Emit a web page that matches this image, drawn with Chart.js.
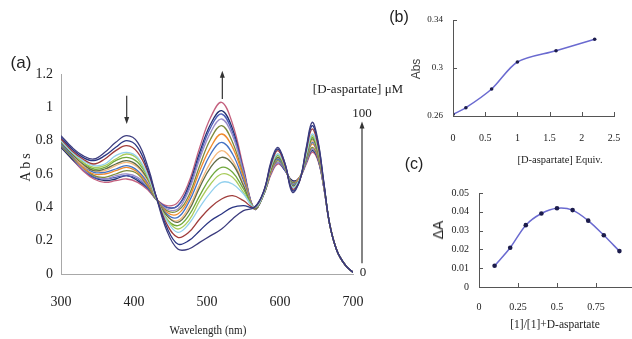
<!DOCTYPE html>
<html>
<head>
<meta charset="utf-8">
<script src="https://cdn.jsdelivr.net/npm/chart.js@4.4.0/dist/chart.umd.min.js"></script>
<style>
  html, body { margin: 0; padding: 0; background: #fff; }
  body { width: 632px; height: 339px; overflow: hidden; position: relative; }
  canvas { position: absolute; }
  .lbl { position: absolute; transform: translate(-50%, -50%); white-space: nowrap; color: #222; line-height: 1; }
  .serif { font-family: 'Liberation Serif', 'Times New Roman', serif; }
  .sans { font-family: 'Liberation Sans', Arial, sans-serif; }
  .rot { transform: translate(-50%, -50%) rotate(-90deg); }
</style>
</head>
<body>
<canvas id="specChart" width="380" height="339" style="left:0;top:0"></canvas>
<canvas id="titrChart" width="252" height="180" style="left:380px;top:0"></canvas>
<canvas id="jobChart" width="260" height="169" style="left:380px;top:170px"></canvas>

<div class="lbl sans" style="left:21px;top:62px;font-size:17px">(a)</div>
<div class="lbl serif rot" style="left:26px;top:166px;font-size:14px;letter-spacing:3px">Abs</div>
<div class="lbl serif" style="left:208px;top:329px;font-size:13px;transform:translate(-50%,-50%) scaleX(0.85)">Wavelength (nm)</div>
<div class="lbl serif" style="left:358px;top:88px;font-size:13px">[D-aspartate] μM</div>
<div class="lbl serif" style="left:362px;top:112px;font-size:13px">100</div>
<div class="lbl serif" style="left:363px;top:271px;font-size:13px">0</div>

<div class="lbl sans" style="left:399px;top:17px;font-size:16px">(b)</div>
<div class="lbl sans rot" style="left:416px;top:69px;font-size:12px;color:#444">Abs</div>
<div class="lbl serif" style="left:560px;top:160px;font-size:10.5px">[D-aspartate] Equiv.</div>

<div class="lbl sans" style="left:414px;top:164px;font-size:16px">(c)</div>
<div class="lbl sans rot" style="left:438px;top:230px;font-size:14px">ΔA</div>
<div class="lbl serif" style="left:555px;top:325px;font-size:11.5px">[1]/[1]+D-aspartate</div>

<script>
// (a) UV-vis spectra, 0 -> 100 uM D-aspartate
const wavelengths = [300, 315, 330, 345, 360, 375, 390, 405, 420, 430, 445, 460, 475, 490, 505, 520, 535, 550, 565, 578, 588, 597, 607, 617, 627, 636, 644, 652, 660, 668, 678, 690, 700];
const spec00 = [.83,.76,.71,.69,.73,.79,.83,.79,.63,.47, .26,.15,.15,.19,.23,.27,.33,.38,.40,.50, .68,.76,.66,.49,.56,.76,.91,.80,.55,.30, .14,.05,.01];
const spec01 = [.82,.75,.70,.68,.71,.76,.80,.76,.61,.47, .28,.18,.20,.26,.32,.36,.40,.41,.40,.50, .67,.75,.66,.50,.56,.75,.89,.79,.55,.30, .14,.05,.01];
const spec02 = [.81,.74,.69,.66,.69,.74,.77,.73,.60,.47, .30,.22,.25,.33,.40,.45,.47,.44,.40,.50, .66,.74,.65,.51,.56,.74,.87,.77,.54,.30, .14,.05,.01];
const spec03 = [.80,.73,.68,.65,.66,.71,.73,.70,.58,.46, .32,.25,.30,.40,.49,.55,.54,.48,.40,.49, .65,.72,.65,.52,.57,.72,.84,.76,.54,.30, .14,.05,.01];
const spec04 = [.80,.73,.67,.64,.65,.69,.72,.69,.57,.46, .33,.27,.32,.44,.54,.60,.58,.49,.40,.49, .65,.72,.64,.52,.57,.72,.83,.75,.54,.30, .14,.05,.01];
const spec05 = [.80,.73,.67,.63,.64,.68,.70,.67,.57,.46, .33,.29,.35,.47,.58,.64,.61,.51,.40,.49, .64,.71,.64,.52,.57,.71,.82,.74,.54,.30, .14,.05,.01];
const spec06 = [.79,.72,.66,.62,.63,.66,.68,.65,.56,.46, .35,.31,.38,.52,.64,.70,.66,.53,.39,.49, .63,.70,.64,.53,.57,.70,.81,.73,.53,.30, .14,.05,.01];
const spec07 = [.79,.72,.65,.62,.62,.65,.67,.64,.55,.46, .35,.32,.40,.54,.67,.74,.68,.54,.39,.49, .63,.70,.64,.53,.57,.70,.80,.73,.53,.30, .14,.05,.01];
const spec08 = [.78,.71,.65,.61,.61,.63,.65,.62,.54,.46, .36,.34,.43,.58,.72,.79,.72,.56,.39,.49, .63,.69,.63,.54,.57,.69,.79,.72,.53,.30, .14,.05,.01];
const spec09 = [.78,.71,.64,.60,.60,.62,.64,.61,.53,.46, .37,.36,.45,.62,.76,.84,.76,.58,.39,.49, .62,.69,.63,.54,.58,.69,.78,.71,.53,.30, .14,.05,.01];
const spec10 = [.77,.70,.64,.59,.58,.60,.62,.60,.52,.45, .38,.38,.47,.65,.81,.89,.79,.59,.39,.48, .62,.68,.63,.55,.58,.68,.76,.70,.53,.30, .14,.05,.01];
const spec11 = [.77,.70,.63,.59,.57,.59,.60,.58,.52,.45, .39,.39,.50,.69,.85,.93,.83,.61,.39,.48, .61,.67,.63,.55,.58,.67,.75,.70,.52,.30, .14,.05,.01];
const spec12 = [.77,.70,.63,.58,.57,.58,.59,.57,.51,.45, .40,.41,.51,.71,.88,.96,.85,.62,.39,.48, .61,.67,.62,.55,.58,.67,.75,.69,.52,.30, .14,.05,.01];
const spec13 = [.76,.69,.63,.58,.56,.57,.59,.56,.51,.45, .40,.41,.53,.73,.90,.98,.87,.62,.39,.48, .61,.67,.62,.56,.58,.67,.74,.69,.52,.30, .14,.05,.01];
const spec14 = [.76,.69,.62,.57,.55,.56,.57,.55,.50,.45, .41,.43,.55,.76,.94,1.03,.90,.64,.39,.48, .60,.66,.62,.56,.58,.66,.73,.68,.52,.30, .14,.05,.01];
const spectra = [spec00, spec01, spec02, spec03, spec04, spec05, spec06, spec07, spec08, spec09, spec10, spec11, spec12, spec13, spec14];
const spectraColors = ['#3c3c7e', '#2a3583', '#a03c3a', '#92d0ee', '#a9cc5c', '#6fa83b', '#606b45', '#f5b87c',
                       '#4472c4', '#f08a2c', '#7c8a3c', '#9a8cc8', '#4d5fb8', '#23306e', '#c4607e'];
const wlTicks = [300, 400, 500, 600, 700];
const absTicks = [0, 0.2, 0.4, 0.6, 0.8, 1, 1.2];

// (b) titration at fixed wavelength
const equiv = [0, 0.2, 0.6, 1, 1.6, 2.2];
const equivAbs = [0.2614, 0.2669, 0.2825, 0.305, 0.3144, 0.3239];
const equivTicks = [0, 0.5, 1, 1.5, 2, 2.5];
const equivAbsTicks = [0.26, 0.3, 0.34];

// (c) Job plot
const moleFrac = [0.1, 0.2, 0.3, 0.4, 0.5, 0.6, 0.7, 0.8, 0.9];
const deltaA = [0.0113, 0.0209, 0.0329, 0.0391, 0.0419, 0.0409, 0.0353, 0.0275, 0.0191];
const fracTicks = [0, 0.25, 0.5, 0.75, 1];
const deltaTicks = [0, 0.01, 0.02, 0.03, 0.04, 0.05];

const fmt = v => String(Math.round(v * 1000) / 1000);

// axis with fixed box size so the plot areas line up with the figure
function axis(ticksArr, size, pad, fontSize, borderColor) {
    return {
        type: 'linear',
        min: ticksArr[0],
        max: ticksArr[ticksArr.length - 1],
        afterBuildTicks: s => { s.ticks = ticksArr.map(v => ({ value: v })); },
        afterFit: s => {
            if (s.isHorizontal()) s.height = size; else s.width = size;
            s.paddingLeft = s.paddingRight = s.paddingTop = s.paddingBottom = 0;
        },
        grid: { display: false, drawTicks: false },
        border: { display: true, color: borderColor, width: 1 },
        ticks: {
            padding: pad,
            autoSkip: false,
            maxRotation: 0,
            color: '#222',
            font: { family: "'Liberation Serif', serif", size: fontSize },
            callback: v => fmt(v)
        }
    };
}

// small tick marks drawn inside the axes (panels b and c)
const innerTicks = {
    id: 'innerTicks',
    afterDraw(chart) {
        const { ctx, chartArea, scales: { x, y } } = chart;
        ctx.save();
        ctx.strokeStyle = '#555';
        ctx.lineWidth = 1;
        ctx.beginPath();
        x.ticks.forEach(t => {
            const px = Math.round(x.getPixelForValue(t.value)) + 0.5;
            ctx.moveTo(px, chartArea.bottom);
            ctx.lineTo(px, chartArea.bottom - 4);
        });
        y.ticks.forEach(t => {
            const py = Math.round(y.getPixelForValue(t.value)) + 0.5;
            ctx.moveTo(chartArea.left, py);
            ctx.lineTo(chartArea.left + 4, py);
        });
        ctx.stroke();
        ctx.restore();
    }
};

// arrows in panel (a)
const arrows = {
    id: 'arrows',
    afterDraw(chart) {
        const { ctx, chartArea, scales: { x, y } } = chart;
        function arrow(px, y0, y1) {
            const dir = y1 > y0 ? 1 : -1;
            ctx.save();
            ctx.strokeStyle = '#333';
            ctx.fillStyle = '#333';
            ctx.lineWidth = 1.2;
            ctx.beginPath();
            ctx.moveTo(px, y0);
            ctx.lineTo(px, y1 - dir * 5);
            ctx.stroke();
            ctx.beginPath();
            ctx.moveTo(px, y1);
            ctx.lineTo(px - 2.5, y1 - dir * 7);
            ctx.lineTo(px + 2.5, y1 - dir * 7);
            ctx.closePath();
            ctx.fill();
            ctx.restore();
        }
        arrow(x.getPixelForValue(390), y.getPixelForValue(1.07), y.getPixelForValue(0.9));
        arrow(x.getPixelForValue(521), y.getPixelForValue(1.05), y.getPixelForValue(1.22));
        arrow(chartArea.right + 9, y.getPixelForValue(0.065), y.getPixelForValue(0.915));
    }
};

const baseOpts = {
    responsive: false,
    animation: false,
    events: [],
    plugins: { legend: { display: false }, tooltip: { enabled: false } }
};

new Chart(document.getElementById('specChart'), {
    type: 'line',
    data: {
        datasets: spectra.map((s, i) => ({
            data: wavelengths.map((w, j) => ({ x: w, y: s[j] })),
            borderColor: spectraColors[i],
            borderWidth: 1.3,
            pointRadius: 0,
            tension: 0.4,
            fill: false
        }))
    },
    options: Object.assign({}, baseOpts, {
        layout: { padding: { left: 0, top: 74, right: 27, bottom: 0 } },
        scales: {
            x: axis(wlTicks, 65, 20, 14, '#a8a8a8'),
            y: axis(absTicks, 61, 8, 14, '#a8a8a8')
        }
    }),
    plugins: [arrows]
});

new Chart(document.getElementById('titrChart'), {
    type: 'line',
    data: {
        datasets: [{
            data: equiv.map((e, i) => ({ x: e, y: equivAbs[i] })),
            borderColor: '#6a6ad0',
            borderWidth: 1.5,
            pointRadius: 1.8,
            pointBackgroundColor: '#1c1c4c',
            pointBorderColor: '#1c1c4c',
            pointBorderWidth: 0,
            tension: 0.3,
            fill: false
        }]
    },
    options: Object.assign({}, baseOpts, {
        layout: { padding: { left: 0, top: 20, right: 18, bottom: 0 } },
        scales: {
            x: axis(equivTicks, 64, 16, 10, '#555'),
            y: axis(equivAbsTicks, 73, 10, 9, '#555')
        }
    }),
    plugins: [innerTicks]
});

new Chart(document.getElementById('jobChart'), {
    type: 'line',
    data: {
        datasets: [{
            data: moleFrac.map((m, i) => ({ x: m, y: deltaA[i] })),
            borderColor: '#6a6ad0',
            borderWidth: 1.5,
            pointRadius: 2.3,
            pointBackgroundColor: '#1c1c4c',
            pointBorderColor: '#1c1c4c',
            pointBorderWidth: 0,
            tension: 0.3,
            fill: false
        }]
    },
    options: Object.assign({}, baseOpts, {
        layout: { padding: { left: 0, top: 23, right: 5, bottom: 0 } },
        scales: {
            x: axis(fracTicks, 52, 14, 10, '#555'),
            y: axis(deltaTicks, 99, 10, 10, '#555')
        }
    }),
    plugins: [innerTicks]
});
</script>
</body>
</html>
